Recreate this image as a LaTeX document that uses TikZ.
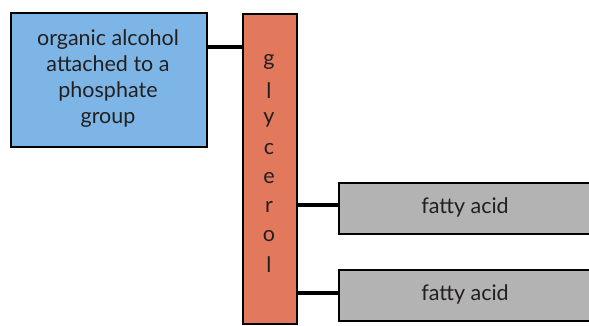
\documentclass[tikz,border=0pt]{standalone}
\usepackage{fontspec}
\setmainfont{Lato}
\definecolor{alcblue}{HTML}{7DB6E6}
\definecolor{glyorange}{HTML}{E2785C}
\definecolor{acidgray}{HTML}{B3B3B3}
\definecolor{inktext}{HTML}{231F20}
\begin{document}
\begin{tikzpicture}[x=1pt,y=-1pt,
  lbl/.style={text=inktext,font=\fontsize{21.5}{26}\selectfont,align=center,inner sep=0pt},
  box/.style={draw=black,line width=1.8pt,inner sep=0pt,anchor=north west},
  link/.style={line width=4.5pt,black}]
\useasboundingbox (0,0) rectangle (589,325);
\clip (0,0) rectangle (589,325);
% backbone
\node[box,fill=glyorange,minimum width=54pt,minimum height=310pt] (gly) at (242,13) {};
\foreach \ch [count=\i] in {g,l,y,c,e,r,o,l}
  \node[lbl] (ch\i) at (269,{33+29*\i}) {\ch};
% attached groups
\node[box,fill=alcblue,minimum width=196pt,minimum height=134pt] (alc) at (10,12) {};
\node[lbl] (alct) at (108,79) {organic alcohol\\attached to a\\phosphate\\group};
\node[box,fill=acidgray,minimum width=256pt,minimum height=51pt] (fa1) at (338,182) {};
\node[lbl] (fa1t) at (465,207) {fatty acid};
\node[box,fill=acidgray,minimum width=256pt,minimum height=51pt] (fa2) at (338,269) {};
\node[lbl] (fa2t) at (465,294) {fatty acid};
% bonds
\draw[link] (alc.east |- 0,47) -- (gly.west |- 0,47);
\draw[link] (gly.east |- 0,205) -- (fa1.west |- 0,205);
\draw[link] (gly.east |- 0,293) -- (fa2.west |- 0,293);
\end{tikzpicture}
\end{document}
